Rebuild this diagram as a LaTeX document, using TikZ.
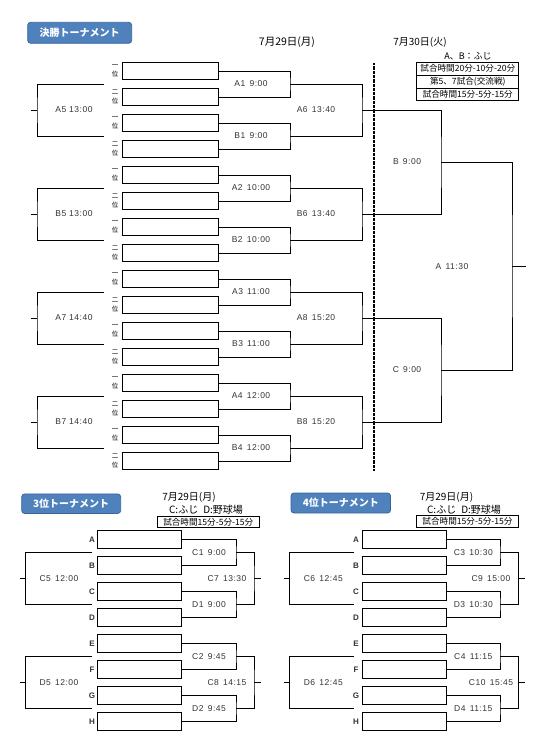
\documentclass[tikz,border=0pt]{standalone}
\usepackage{fontspec}
\setmainfont{Noto Sans CJK JP}
\newfontfamily\lblfont[LetterSpace=6]{Liberation Sans}
\definecolor{hdrblue}{HTML}{4F81BD}
\definecolor{hdrborder}{HTML}{3A6599}
\definecolor{lbltext}{HTML}{333333}
\begin{document}
\begin{tikzpicture}[x=1pt,y=-1pt, line width=0.85pt,
  slot/.style={draw, line width=0.95pt, minimum width=96pt, minimum height=17pt, inner sep=0pt},
  slotb/.style={draw, line width=0.95pt, minimum width=84pt, minimum height=17.5pt, inner sep=0pt},
  lbl/.style={font=\lblfont\fontsize{8.5}{9}\selectfont, text=lbltext, inner sep=0pt},
  rank/.style={font=\fontsize{6.5}{9.5}\selectfont, align=center, inner sep=0pt},
  letter/.style={font=\lblfont\bfseries\fontsize{8}{9}\selectfont, text=lbltext, inner sep=0pt},
  head/.style={draw=hdrborder, fill=hdrblue, line width=0.8pt, rounded corners=3pt, text=white, inner sep=0pt, font=\bfseries\fontsize{10}{11}\selectfont},
  datetxt/.style={font=\fontsize{10}{11}\selectfont, inner sep=0pt},
  info/.style={draw, line width=0.8pt, font=\fontsize{8.6}{9}\selectfont, inner sep=0pt, minimum height=12.8pt, minimum width=102pt}
]
\useasboundingbox (0,0) rectangle (546,752);

% ---------------- headers ----------------
\node[head, minimum width=104pt, minimum height=21pt] (h1) at (79.7,32.8) {決勝トーナメント};
\node[head, minimum width=99pt, minimum height=19.5pt] (h3) at (71.2,503.7) {3位トーナメント};
\node[head, minimum width=99.5pt, minimum height=20pt] (h4) at (340.8,503) {4位トーナメント};

\node[datetxt, font=\fontsize{10.5}{11}\selectfont] (dt1) at (287,42) {7月29日(月)};
\node[datetxt] (dt2) at (420,42) {7月30日(火)};
\node[datetxt, font=\fontsize{9}{10}\selectfont] (ab) at (468,56) {A、B：ふじ};
\node[info] (i1) at (467.8,68.7) {試合時間20分-10分-20分};
\node[info] (i2) at (467.8,81.5) {第5、7試合(交流戦)};
\node[info] (i3) at (467.8,94.3) {試合時間15分-5分-15分};

% ---------------- main bracket ----------------
\foreach \i [evaluate=\i as \y using 71+26*\i] in {0,...,15} {
  \node[slot] (t\i) at (170,\y) {};
}
\foreach \i [evaluate=\i as \y using 71+26*\i] in {0,2,...,14} {
  \node[rank] (rk\i) at (115,\y) {一\\位};
}
\foreach \i [evaluate=\i as \y using 71+26*\i] in {1,3,...,15} {
  \node[rank] (rk\i) at (115,\y) {二\\位};
}
% round 1
\foreach \k/\t [evaluate=\k as \y using 84+52*\k, evaluate=\k as \a using int(2*\k), evaluate=\k as \b using int(2*\k+1)] in
  {0/{A1\enspace 9:00},1/{B1\enspace 9:00},2/{A2\enspace 10:00},3/{B2\enspace 10:00},4/{A3\enspace 11:00},5/{B3\enspace 11:00},6/{A4\enspace 12:00},7/{B4\enspace 12:00}} {
  \coordinate (r\k) at (290,\y);
  \draw (t\a.east) -| (r\k) |- (t\b.east);
  \node[lbl] (rl\k) at (251,\y) {\t};
}
% round 2
\foreach \j/\t [evaluate=\j as \y using 110+104*\j, evaluate=\j as \a using int(2*\j), evaluate=\j as \b using int(2*\j+1)] in
  {0/{A6\enspace 13:40},1/{B6\enspace 13:40},2/{A8\enspace 15:20},3/{B8\enspace 15:20}} {
  \coordinate (s\j) at (362,\y);
  \draw (r\a) -| (s\j) |- (r\b);
  \node[lbl] (sl\j) at (316,\y) {\t};
}
% left brackets
\foreach \j/\t [evaluate=\j as \y using 110+104*\j, evaluate=\j as \ya using 84+104*\j, evaluate=\j as \yb using 136+104*\j] in
  {0/{A5 13:00},1/{B5 13:00},2/{A7 14:40},3/{B7 14:40}} {
  \coordinate (L\j) at (37,\y);
  \coordinate (La\j) at (104,\ya);
  \coordinate (Lb\j) at (104,\yb);
  \coordinate (Ls\j) at (31,\y);
  \draw (La\j) -| (L\j) |- (Lb\j);
  \draw (L\j) -- (Ls\j);
  \node[lbl] (ll\j) at (74,\y) {\t};
}
% semi-finals and final
\coordinate (jB) at (441,162);
\coordinate (jC) at (441,370);
\coordinate (jF) at (512,266);
\coordinate (jFs) at (526,266);
\draw (s0) -| (jB) |- (s1);
\draw (s2) -| (jC) |- (s3);
\draw (jB) -| (jF) |- (jC);
\draw (jF) -- (jFs);
\node[lbl] (lB) at (407,162) {B\enspace 9:00};
\node[lbl] (lC) at (407,370) {C\enspace 9:00};
\node[lbl] (lA) at (452,267) {A\enspace 11:30};

% dotted day separator
\coordinate (dA) at (374,63);
\coordinate (dB) at (374,470);
\draw[line width=1.1pt, dash pattern=on 0.7pt off 0.6pt] (dA) -- (dB);

% ---------------- 3rd place ----------------
\node[datetxt] (dt3) at (189,497) {7月29日(月)};
\node[datetxt] (pl3) at (206,510) {C:ふじ\enspace D:野球場};
\node[info, minimum width=102pt, minimum height=11.7pt] (i4) at (208.3,521.8) {試合時間15分-5分-15分};

\foreach \i/\l [evaluate=\i as \y using 539.5+26*\i] in {0/A,1/B,2/C,3/D,4/E,5/F,6/G,7/H} {
  \node[slotb] (p\i) at (139.7,\y) {};
  \node[letter] (pL\i) at (92,\y) {\l};
}
\foreach \k/\t [evaluate=\k as \y using 552.5+52*\k, evaluate=\k as \a using int(2*\k), evaluate=\k as \b using int(2*\k+1)] in
  {0/{C1\enspace 9:00},1/{D1\enspace 9:00},2/{C2\enspace 9:45},3/{D2\enspace 9:45}} {
  \coordinate (pr\k) at (236,\y);
  \draw (p\a.east) -| (pr\k) |- (p\b.east);
  \node[lbl] (prl\k) at (209,\y) {\t};
}
\foreach \j/\t/\u [evaluate=\j as \y using 578.5+104*\j, evaluate=\j as \a using int(2*\j), evaluate=\j as \b using int(2*\j+1), evaluate=\j as \ya using 552.5+104*\j, evaluate=\j as \yb using 604.5+104*\j] in
  {0/{C7\enspace 13:30}/{C5\enspace 12:00},1/{C8\enspace 14:15}/{D5\enspace 12:00}} {
  \coordinate (ps\j) at (254,\y);
  \coordinate (pss\j) at (261,\y);
  \draw (pr\a) -| (ps\j) |- (pr\b);
  \draw (ps\j) -- (pss\j);
  \node[lbl] (psl\j) at (227,\y) {\t};
  \coordinate (pL\j) at (25.7,\y);
  \coordinate (pLa\j) at (92,\ya);
  \coordinate (pLb\j) at (92,\yb);
  \coordinate (pLs\j) at (20,\y);
  \draw (pLa\j) -| (pL\j) |- (pLb\j);
  \draw (pL\j) -- (pLs\j);
  \node[lbl] (pLl\j) at (59,\y) {\u};
}

% ---------------- 4th place ----------------
\node[datetxt] (dt4) at (446.5,497) {7月29日(月)};
\node[datetxt] (pl4) at (464,510) {C:ふじ\enspace D:野球場};
\node[info, minimum width=101.6pt, minimum height=11.7pt] (i5) at (467.5,521.5) {試合時間15分-5分-15分};

\foreach \i/\l [evaluate=\i as \y using 539.5+26*\i] in {0/A,1/B,2/C,3/D,4/E,5/F,6/G,7/H} {
  \node[slotb] (q\i) at (404.5,\y) {};
  \node[letter] (qL\i) at (356,\y) {\l};
}
\foreach \k/\t [evaluate=\k as \y using 552.5+52*\k, evaluate=\k as \a using int(2*\k), evaluate=\k as \b using int(2*\k+1)] in
  {0/{C3\enspace 10:30},1/{D3\enspace 10:30},2/{C4\enspace 11:15},3/{D4\enspace 11:15}} {
  \coordinate (qr\k) at (500,\y);
  \draw (q\a.east) -| (qr\k) |- (q\b.east);
  \node[lbl] (qrl\k) at (473.3,\y) {\t};
}
\foreach \j/\t/\u [evaluate=\j as \y using 578.5+104*\j, evaluate=\j as \a using int(2*\j), evaluate=\j as \b using int(2*\j+1), evaluate=\j as \ya using 552.5+104*\j, evaluate=\j as \yb using 604.5+104*\j] in
  {0/{C9\enspace 15:00}/{C6\enspace 12:45},1/{C10\enspace 15:45}/{D6\enspace 12:45}} {
  \coordinate (qs\j) at (518.3,\y);
  \coordinate (qss\j) at (525,\y);
  \draw (qr\a) -| (qs\j) |- (qr\b);
  \draw (qs\j) -- (qss\j);
  \node[lbl] (qsl\j) at (491,\y) {\t};
  \coordinate (qL\j) at (289.3,\y);
  \coordinate (qLa\j) at (354,\ya);
  \coordinate (qLb\j) at (354,\yb);
  \coordinate (qLs\j) at (284,\y);
  \draw (qLa\j) -| (qL\j) |- (qLb\j);
  \draw (qL\j) -- (qLs\j);
  \node[lbl] (qLl\j) at (323.3,\y) {\u};
}
\end{tikzpicture}
\end{document}
